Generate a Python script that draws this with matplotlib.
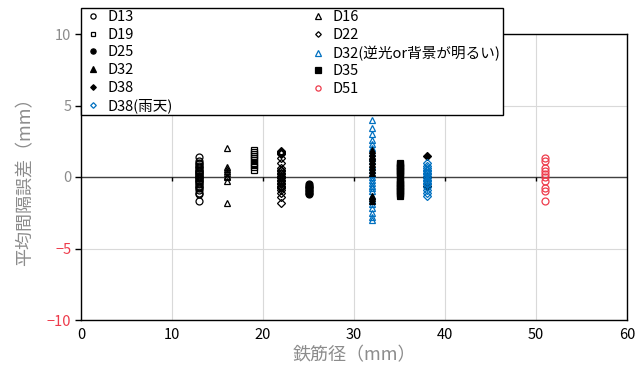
import matplotlib
matplotlib.use("Agg")
import matplotlib.pyplot as plt

plt.rcParams['font.family'] = ['Noto Sans CJK JP', 'DejaVu Sans']

# ---- data ----
d13 = [1.4, 1.1, 1.0, 0.9, 0.8, 0.7, 0.6, 0.5, 0.45, 0.4, 0.3, 0.25, 0.2, 0.1, 0.05, 0.0,
       -0.05, -0.1, -0.2, -0.25, -0.3, -0.4, -0.5, -0.6, -0.7, -0.8, -0.9, -1.1, -1.2, -1.7]
d16 = [2.0, 0.7, 0.55, 0.4, 0.3, 0.1, 0.0, -0.3, -1.8]
d19 = [1.9, 1.75, 1.6, 1.45, 1.3, 1.2, 1.0, 0.85, 0.7, 0.5]
d22 = [1.8, 1.75, 1.7, 1.65, 1.6, 1.3, 1.0, 0.6, 0.5, 0.4, 0.3, 0.2, 0.1, 0.0, -0.1, -0.2,
       -0.3, -0.4, -0.5, -0.6, -0.7, -0.8, -0.9, -1.1, -1.4, -1.8]
d25 = [-0.5, -0.6, -0.7, -0.8, -0.9, -1.0, -1.1, -1.2]
d32_back = [4.0, 3.4, 3.0, 2.6, 2.3, 2.0, 1.7, 1.4, 1.1, 0.8, 0.5, 0.2, 0.0, -0.2, -0.4,
            -0.6, -0.8, -1.0, -1.3, -1.6, -1.9, -2.2, -2.5, -2.8, -3.0]
d32 = [1.9, 1.7, 1.5, 1.3, 1.1, 0.9, 0.7, 0.5, 0.3, -1.3, -1.5, -1.7]
d35 = [1.0, 0.9, 0.8, 0.7, 0.6, 0.5, 0.4, 0.3, 0.2, 0.1, -0.2, -0.3, -0.4, -0.5, -0.6,
       -0.7, -0.8, -0.9, -1.0, -1.1, -1.2, -1.3]
d38 = [1.5, 0.0, -0.6]
d51 = [1.3, 1.1, 0.6, 0.4, 0.2, 0.0, -0.3, -0.8, -1.0, -1.7]
d38_rain = [1.0, 0.8, 0.6, 0.5, 0.4, 0.3, 0.2, 0.1, -0.1, -0.2, -0.3, -0.4, -0.5, -0.7,
            -0.9, -1.1, -1.3]

x_ticks = [0, 10, 20, 30, 40, 50, 60]
y_ticks = [-10, -5, 0, 5, 10]

BLUE = '#0070C0'
RED = '#EE3B4B'
GRAY = '#8C8C8C'

# (label, diameter, values, marker, color, filled, size)
series = [
    ('D13', 13, d13, 'o', 'black', False, 5.0),
    ('D16', 16, d16, '^', 'black', False, 5.0),
    ('D19', 19, d19, 's', 'black', False, 4.8),
    ('D22', 22, d22, 'D', 'black', False, 3.8),
    ('D25', 25, d25, 'o', 'black', True, 5.0),
    ('D32(逆光or背景が明るい)', 32, d32_back, '^', BLUE, False, 5.0),
    ('D32', 32, d32, '^', 'black', True, 5.0),
    ('D35', 35, d35, 's', 'black', True, 5.0),
    ('D38', 38, d38, 'D', 'black', True, 3.8),
    ('D51', 51, d51, 'o', RED, False, 5.0),
    ('D38(雨天)', 38, d38_rain, 'D', BLUE, False, 3.8),
]

fig = plt.figure(figsize=(6.43, 3.70), dpi=100)
ax = fig.add_axes([81/643, 1-320/370, (627-81)/643, (320-34)/370])

handles = {}
for label, dia, vals, mk, col, filled, ms in series:
    h, = ax.plot([dia]*len(vals), vals, linestyle='none', marker=mk, markersize=ms,
                 markeredgecolor=col, markerfacecolor=col if filled else 'none',
                 markeredgewidth=0.9, label=label, zorder=3)
    handles[label] = h

ax.set_xlim(0, 60)
ax.set_ylim(-10, 10)
ax.set_xticks(x_ticks)
ax.set_yticks(y_ticks)
ax.set_xticklabels([str(v) for v in x_ticks], fontsize=10.5, color='black')
ax.set_yticklabels([str(v).replace('-', '−') for v in y_ticks], fontsize=10.5)
for lab, v in zip(ax.get_yticklabels(), y_ticks):
    lab.set_color(RED if v < 0 else GRAY)
ax.tick_params(axis='x', length=0, pad=6)
ax.tick_params(axis='y', length=4, width=1, color='black', pad=3, direction='out')
ax.grid(True, color='#D9D9D9', linewidth=0.8, zorder=0)
ax.set_axisbelow(True)
for s in ax.spines.values():
    s.set_color('black')
    s.set_linewidth(1.0)

# zero line with small tick marks
ax.axhline(0, color='#404040', linewidth=1.0, zorder=2)
ax.vlines(x_ticks[1:-1], -0.3, 0, color='black', linewidth=1.0, zorder=2)

ax.set_xlabel('鉄筋径（mm）', fontsize=13, color=GRAY, labelpad=3)
ax.set_ylabel('平均間隔誤差（mm）', fontsize=13, color=GRAY, labelpad=9)

order = ['D13', 'D19', 'D25', 'D32', 'D38', 'D38(雨天)',
         'D16', 'D22', 'D32(逆光or背景が明るい)', 'D35', 'D51']
lw_ = 422/643
lh_ = 107/370
leg = fig.legend([handles[k] for k in order], order, ncol=2, loc='upper left',
                 bbox_to_anchor=(81/643, 1-8/370-lh_, lw_, lh_), mode='expand',
                 borderaxespad=0, fontsize=10.5, frameon=True, fancybox=False,
                 edgecolor='black', framealpha=1, markerscale=0.75, handlelength=1.4,
                 handletextpad=0.3, labelspacing=0.25, columnspacing=1.0, borderpad=0.15)
leg.get_frame().set_linewidth(1.0)
leg.set_zorder(10)

fig.savefig('out.png', dpi=100)
